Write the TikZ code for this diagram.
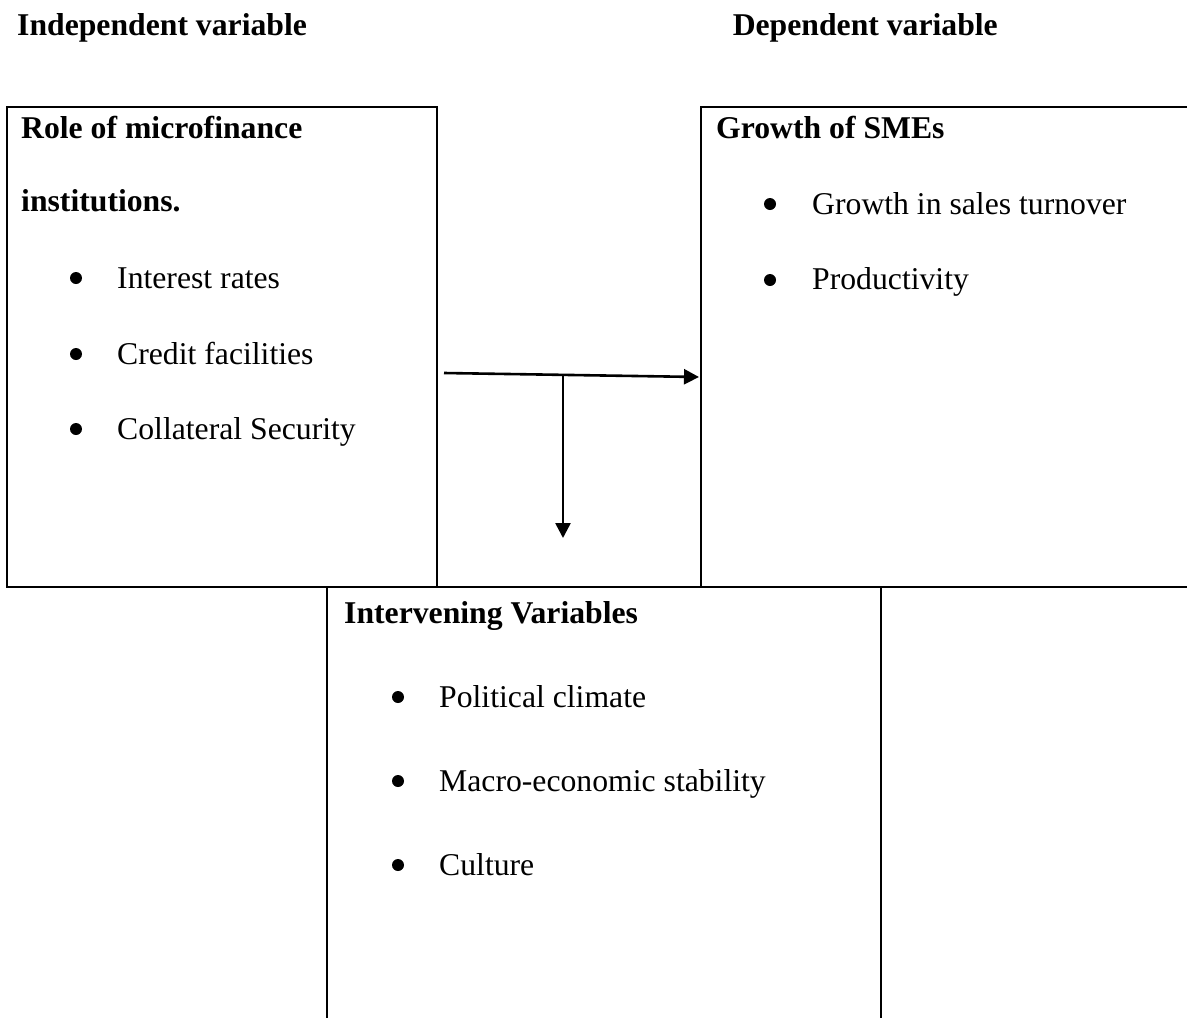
\documentclass[tikz,border=0pt]{standalone}
\usepackage{fontspec}
\setmainfont{Liberation Serif}
\usetikzlibrary{arrows.meta}
\begin{document}
\begin{tikzpicture}[x=1pt,y=-1pt,
  boxline/.style={draw=black,line width=2.8pt},
  txt/.style={anchor=base west,inner sep=0pt,font=\fontsize{31.7}{38}\selectfont},
  head/.style={txt,font=\fontsize{31.7}{38}\selectfont\bfseries},
  bul/.style={circle,fill=black,inner sep=0pt,minimum size=12pt},
  arr/.style={line width=2.6pt,-{Triangle[length=15pt,width=15pt]}}]
\path[use as bounding box,fill=white] (0,0) rectangle (1187,1018);
\clip (0,0) rectangle (1187,1018);
% boxes
\draw[boxline] (7,107) rectangle (437,587);
\draw[boxline] (701,107) rectangle (1200,587);
\draw[boxline] (327,587) rectangle (881,1040);
\draw[boxline] (7,587) -- (1200,587);
% headers
\node[head] (hind) at (17,35) {Independent variable};
\node[head,anchor=base east] (hdep) at (998,35) {Dependent variable};
% left box text
\node[head] (l1) at (21,138) {Role of microfinance};
\node[head] (l2) at (21,211) {institutions.};
\node[bul] (lb1) at (76,278) {};
\node[txt] (lt1) at (117,288) {Interest rates};
\node[bul] (lb2) at (76,354) {};
\node[txt] (lt2) at (117,364) {Credit facilities};
\node[bul] (lb3) at (76,429) {};
\node[txt] (lt3) at (117,439) {Collateral Security};
% right box text
\node[head] (r1) at (716,138) {Growth of SMEs};
\node[bul] (rb1) at (770,204) {};
\node[txt] (rt1) at (812,214) {Growth in sales turnover};
\node[bul] (rb2) at (770,280) {};
\node[txt] (rt2) at (812,289) {Productivity};
% bottom box text
\node[head] (b1) at (344,623) {Intervening Variables};
\node[bul] (bb1) at (398,697) {};
\node[txt] (bt1) at (439,707) {Political climate};
\node[bul] (bb2) at (398,781) {};
\node[txt] (bt2) at (439,791) {Macro-economic stability};
\node[bul] (bb3) at (398,865) {};
\node[txt] (bt3) at (439,875) {Culture};
% arrows
\coordinate (hs) at (444,373);
\coordinate (he) at (699,377);
\coordinate (vs) at (563,375);
\coordinate (ve) at (563,538);
\draw[arr] (hs) -- (he);
\draw[arr] (vs) -- (ve);
\end{tikzpicture}
\end{document}
